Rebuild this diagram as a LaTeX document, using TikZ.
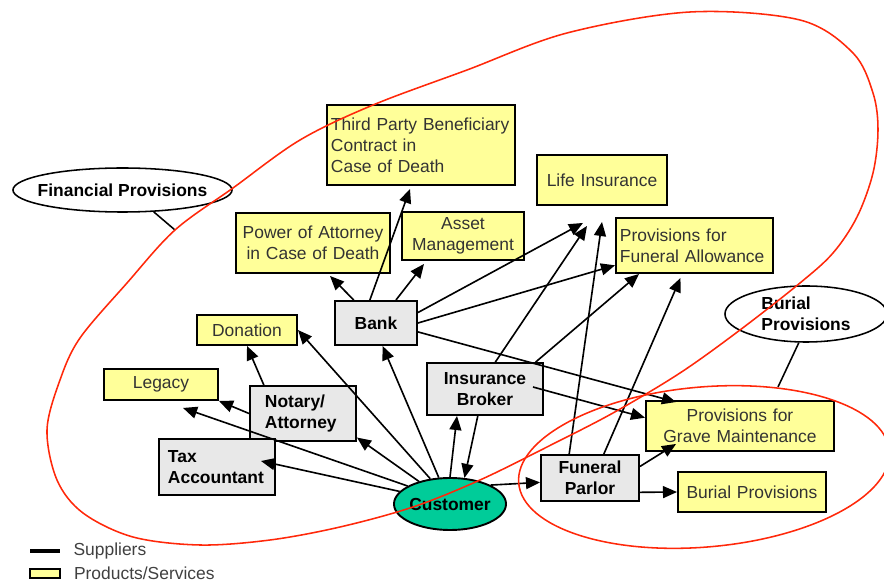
\documentclass[tikz,border=0pt]{standalone}
\usepackage{fontspec}
\setmainfont{Liberation Sans}
\usetikzlibrary{shapes.geometric, arrows.meta, positioning}

\definecolor{prodyellow}{RGB}{255,255,153}
\definecolor{suppgray}{RGB}{232,232,232}
\definecolor{custgreen}{RGB}{0,204,153}
\definecolor{ringred}{RGB}{255,40,10}

\tikzset{
  product/.style={draw, line width=1.35pt, fill=prodyellow, text=black!80, inner xsep=0.1cm, inner ysep=0pt, align=center, font=\fontsize{12.4}{15}\selectfont},
  supplier/.style={product, fill=suppgray, text=black, font=\fontsize{12.4}{15}\selectfont\bfseries},
  customer/.style={ellipse, draw, line width=1.35pt, fill=custgreen, minimum width=2.8cm, minimum height=1.3cm, inner xsep=-1pt, inner ysep=0pt, font=\fontsize{12.4}{15}\selectfont\bfseries},
  bubble/.style={ellipse, draw, line width=1.1pt, fill=white, inner sep=0pt, font=\fontsize{12.4}{15}\selectfont\bfseries},
  link/.style={-{Triangle[length=10pt,width=8.5pt]}, line width=1.15pt},
  tail/.style={line width=1.1pt},
  ring/.style={draw=ringred, line width=1.1pt},
  keytext/.style={inner sep=0pt, font=\fontsize{12.4}{15}\selectfont, text=black!75},
}

\begin{document}
\begin{tikzpicture}[x=0.025cm, y=-0.025cm]
\useasboundingbox (0,0) rectangle (884,583);
\clip (0,0) rectangle (884,583);

\node[product, text width=4.5cm, minimum height=2cm, align=left] (tpb) at (421,145) {Third Party Beneficiary\\Contract in\\Case of Death};
\node[product, text width=3.05cm, minimum height=1.25cm] (life) at (602,180) {Life Insurance};
\node[product, text width=3.65cm, minimum height=1.5cm] (poa) at (313,243) {Power of Attorney\\in Case of Death};
\node[product, text width=2.85cm, minimum height=1.2cm] (asset) at (463,236) {Asset\\Management};
\node[product, text width=3.725cm, minimum height=1.375cm, align=left] (funallow) at (694.5,245.5) {Provisions for\\Funeral Allowance};
\node[product, text width=2.3cm, minimum height=0.75cm] (donation) at (247,330) {Donation};
\node[product, text width=2.65cm, minimum height=0.775cm] (legacy) at (161,384.5) {Legacy};
\node[product, text width=4.5cm, minimum height=1.25cm] (grave) at (740,426) {Provisions for\\Grave Maintenance};
\node[product, text width=3.5cm, minimum height=1cm] (burial) at (752,492) {Burial Provisions};

\node[supplier, text width=1.85cm, minimum height=1.1cm] (bank) at (376,323) {Bank};
\node[supplier, text width=1.9cm, inner xsep=0.375cm, minimum height=1.375cm, align=left] (notary) at (303,413.5) {Notary/\\Attorney};
\node[supplier, text width=2.7cm, minimum height=1.3cm] (broker) at (485,389) {Insurance\\Broker};
\node[supplier, text width=2.45cm, inner xsep=0.225cm, minimum height=1.4cm, align=left] (tax) at (217,467) {Tax\\Accountant};
\node[supplier, text width=2.25cm, minimum height=1.15cm] (parlor) at (590,478) {Funeral\\Parlor};
\node[customer] (cust) at (450,504) {Customer};

\node[bubble, minimum width=5.475cm, minimum height=1.1cm, inner xsep=-0.5cm] (finprov) at (122.5,190) {Financial Provisions};
\node[bubble, minimum width=4.05cm, minimum height=1.4cm, align=left] (burprov) at (806,314) {Burial\\Provisions};
\coordinate (fptail) at (175,230);
\coordinate (bptail) at (778,387);

\node[fill=black, inner sep=0pt, minimum width=0.75cm, minimum height=0.1cm] (keysupp) at (45,551) {};
\node[keytext, right=0.325cm of keysupp] (keysupptext) {Suppliers};
\node[draw, line width=1.1pt, fill=prodyellow, inner sep=0pt, minimum width=0.75cm, minimum height=0.225cm] (keyprod) at (45,573.5) {};
\node[keytext, right=0.325cm of keyprod] (keyprodtext) {Products/Services};

\draw[link] (cust.166) -- ([shift={(-15,-6)}]tax.east);
\draw[link] (cust.157) -- ([shift={(22,7)}]legacy.south);
\draw[link] (cust.144) -- (notary.-24);
\draw[link] (cust.128) -- (donation.east);
\draw[link] (cust.113) -- (bank.-74);
\draw[link] (cust.90) -- ([shift={(-28,0)}]broker.south);
\draw[link] (broker.-105) -- (cust.61);
\draw[link] (cust.25) -- (parlor.185);
\draw[link] (notary.west) -- (legacy.south east);
\draw[link] (notary.144) -- (donation.south);
\draw[link] (bank.134) -- ([shift={(17,2)}]poa.south);
\draw[link] (bank.105) -- ([shift={(-11,3)}]tpb.south);
\draw[link] (bank.49) -- ([shift={(23,3)}]asset.south west);
\draw[link] (bank.14) -- ([shift={(-19,17)}]life.south);
\draw[link] (bank.east) -- (funallow.-166);
\draw[link] (bank.-12) -- ([shift={(31,2)}]grave.north west);
\draw[link] (broker.69) -- ([shift={(-15,20)}]life.south);
\draw[link] (broker.28) -- ([shift={(24,0)}]funallow.south west);
\draw[link] ([shift={(-11,-2)}]broker.east) -- (grave.175);
\draw[link] (parlor.131) -- ([shift={(0,16)}]life.south);
\draw[link] (parlor.60) -- ([shift={(-14,4)}]funallow.south);
\draw[link] (parlor.13) -- ([shift={(31,-8)}]grave.south west);
\draw[link] (parlor.-16) -- (burial.west);

\draw[tail] (finprov.-35) -- (fptail);
\draw[tail] (burprov.-104) -- (bptail);

\draw[ring] plot[smooth cycle, tension=0.55] coordinates {(47,430) (60,380) (80,338) (127,283) (175,230) (233,188) (300,140) (373,105) (467,70) (567,33) (690,12) (800,20) (853,53) (873,93) (878,130) (873,173) (857,217) (833,253) (800,283) (740,330) (680,373) (613,413) (547,447) (480,480) (413,507) (340,527) (270,540) (200,545) (133,537) (83,513) (57,480)};
\draw[ring, rotate around={5:(704,467)}] (704,467) ellipse [x radius=186, y radius=80];
\end{tikzpicture}
\end{document}
